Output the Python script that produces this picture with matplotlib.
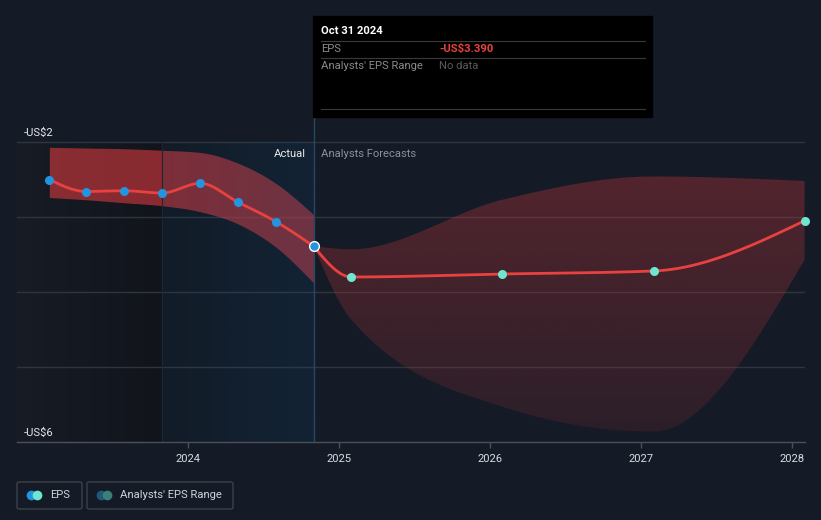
import datetime as dt
import numpy as np
import matplotlib
matplotlib.use('Agg')
import matplotlib.pyplot as plt
import matplotlib.transforms as mtrans
from matplotlib.patches import Rectangle, FancyBboxPatch
from matplotlib.lines import Line2D

plt.rcParams['font.family'] = ['Roboto', 'DejaVu Sans']

# === DATA === #
past_dates = ['2023-01-31', '2023-04-30', '2023-07-31', '2023-10-31',
              '2024-01-31', '2024-04-30', '2024-07-31', '2024-10-31']
past_eps = [-2.50, -2.66, -2.65, -2.68, -2.55, -2.80, -3.06, -3.39]
past_high = [-2.07, -2.08, -2.09, -2.11, -2.14, -2.28, -2.55, -2.97]
past_low = [-2.74, -2.77, -2.81, -2.85, -2.93, -3.09, -3.40, -3.88]

fc_dates = ['2025-01-31', '2026-01-31', '2027-01-31', '2028-01-31']
fc_eps = [-3.80, -3.76, -3.72, -3.05]
fc_high = [-3.43, -2.77, -2.46, -2.52]
fc_low = [-4.37, -5.53, -5.86, -3.57]

year_ticks = [2024, 2025, 2026, 2027, 2028]
y_labels = {-2: '-US$2', -6: '-US$6'}
grid_vals = [-2, -3, -4, -5]

# colours / sizes
BG = '#151b26'
RED = '#e8413f'
BLUE = '#2394df'
TEAL = '#6ee6d0'
FS = 8.1


def dyear(s):
    d = dt.date.fromisoformat(s)
    return d.year + (d - dt.date(d.year, 1, 1)).days / 365.25


def monotone(x, y, n=300):
    # monotone cubic (same idea as d3 curveMonotoneX)
    x = np.asarray(x, float); y = np.asarray(y, float)
    h = np.diff(x); s = np.diff(y) / h
    m = np.zeros_like(y)
    for i in range(1, len(y) - 1):
        p = (s[i-1] * h[i] + s[i] * h[i-1]) / (h[i-1] + h[i])
        m[i] = (np.sign(s[i-1]) + np.sign(s[i])) * min(abs(s[i-1]), abs(s[i]), 0.5 * abs(p))
    m[0] = (3 * s[0] - m[1]) / 2 if len(y) > 2 else s[0]
    m[-1] = (3 * s[-1] - m[-2]) / 2 if len(y) > 2 else s[-1]
    xs = np.linspace(x[0], x[-1], n)
    idx = np.clip(np.searchsorted(x, xs) - 1, 0, len(h) - 1)
    t = (xs - x[idx]) / h[idx]
    h00 = 2*t**3 - 3*t**2 + 1; h10 = t**3 - 2*t**2 + t
    h01 = -2*t**3 + 3*t**2; h11 = t**3 - t**2
    ys = h00*y[idx] + h10*h[idx]*m[idx] + h01*y[idx+1] + h11*h[idx]*m[idx+1]
    return xs, ys


px = np.array([dyear(d) for d in past_dates])
fx = np.array([dyear(d) for d in fc_dates])
fx_full = np.concatenate([[px[-1]], fx])
fe_full = np.concatenate([[past_eps[-1]], fc_eps])
fh_full = np.concatenate([[past_eps[-1]], fc_high])
fl_full = np.concatenate([[past_eps[-1]], fc_low])

W, H = 821, 520
fig = plt.figure(figsize=(W / 100, H / 100), dpi=100, facecolor=BG)
ax = fig.add_axes([17 / W, 1 - 442 / H, (805 - 17) / W, (442 - 117) / H])
ax.set_facecolor(BG)

x0, x1 = 2022.868, 2028.085
ax.set_xlim(x0, x1)
ax.set_ylim(-6, -2 + 25 / 75)

# background shading for the past
g = np.linspace(0, 1, 256)[None, :, None]
left = np.array([23, 28, 37]) / 255 * (1 - g) + np.array([17, 20, 27]) / 255 * g
ax.imshow(left, extent=[x0, px[3], -6, -2], aspect='auto', zorder=0)
ax.imshow(np.array([[[18, 22, 30]]]) / 255, extent=[px[3], px[-1], -6, -2],
          aspect='auto', zorder=0)

# blue highlight drawn over the band (last year of actuals)
over = np.zeros((1, 256, 4))
over[..., 0] = 20 / 255; over[..., 1] = 80 / 255; over[..., 2] = 130 / 255
over[..., 3] = 0.10 + 0.13 * np.linspace(0, 1, 256)
ax.imshow(over, extent=[px[3], px[-1], -6, -2], aspect='auto', zorder=4)
ax.axvline(px[3], ymax=(4 / (4 + 25 / 75)), color='#1c2836', lw=0.8, zorder=4)
ax.axvline(px[-1], color='#284760', lw=1, zorder=6)

for v in grid_vals:
    ax.axhline(v, color='#2f343d', lw=1, zorder=2)

# past range band
bx, bh = monotone(px, past_high)
_, bl = monotone(px, past_low)
ax.fill_between(bx, bl, bh, color='#d83a3f', alpha=0.6, lw=0, zorder=3)

# forecast range band with vertical gradient
fxs, fhs = monotone(fx_full, fh_full)
_, fls = monotone(fx_full, fl_full)
band = ax.fill_between(fxs, fls, fhs, facecolor='none', lw=0, zorder=3)
gy = np.linspace(0, 1, 256)[:, None]
grad = np.zeros((256, 2, 4))
grad[..., 0] = 216 / 255; grad[..., 1] = 58 / 255; grad[..., 2] = 63 / 255
grad[..., 3] = 0.32 * (1 - gy) + 0.11 * gy
im = ax.imshow(grad, extent=[px[-1], x1, -6, -2.4], aspect='auto', zorder=3)
im.set_clip_path(band.get_paths()[0], transform=ax.transData)

# EPS lines
lx, ly = monotone(px, past_eps)
ax.plot(lx, ly, color=RED, lw=2, zorder=5, solid_capstyle='round')
fxl, fyl = monotone(fx_full, fe_full)
ax.plot(fxl, fyl, color=RED, lw=2, zorder=5, solid_capstyle='round')
ax.plot(px[:-1], past_eps[:-1], 'o', color=BLUE, ms=6.5, mew=0, zorder=7)
ax.plot(px[-1], past_eps[-1], 'o', color=BLUE, ms=7, mec='white', mew=1, zorder=8)
ax.plot(fx, fc_eps, 'o', color=TEAL, ms=6.5, mew=0, zorder=7, clip_on=False)

# axes styling
for sp in ['top', 'right', 'left']:
    ax.spines[sp].set_visible(False)
ax.spines['bottom'].set_color('#4b505a')
ax.spines['bottom'].set_linewidth(1)
ax.set_yticks([])
ax.set_xticks(year_ticks)
ax.set_xticklabels([str(y) for y in year_ticks])
ax.tick_params(axis='x', colors='#4b505a', labelcolor='#d9dbdf', length=4,
               width=1, pad=5, labelsize=FS)

blend = mtrans.blended_transform_factory(ax.transAxes, ax.transData)
for v, s in y_labels.items():
    ax.text(7 / 788, v + 0.06, s, transform=blend, color='#e4e6ea',
            fontsize=FS, va='bottom', ha='left', zorder=9)

ax.text(px[-1] - 0.05, -2.16, 'Actual', color='#e8e8e8', fontsize=FS,
        ha='right', va='center', zorder=9)
ax.text(px[-1] + 0.05, -2.16, 'Analysts Forecasts', color='#8b9099', fontsize=FS,
        ha='left', va='center', zorder=9)


# === TOOLTIP === #
def fp(x, y):
    return x / W, 1 - y / H


tx, ty = fp(313, 117)
fig.add_artist(Rectangle((tx, ty), (652 - 313) / W, (117 - 16) / H,
                         transform=fig.transFigure, color='black', zorder=20))
for yy in [41, 58, 109]:
    a, b = fp(321, yy)
    c, _ = fp(645, yy)
    fig.add_artist(Line2D([a, c], [b, b], transform=fig.transFigure,
                          color='#3a3a3a', lw=0.8, zorder=21))
fig.text(*fp(321, 31), 'Oct 31 2024', color='white', fontsize=FS,
         fontweight='bold', va='center', zorder=22)
fig.text(*fp(321, 49), 'EPS', color='#8a8a8a', fontsize=FS, va='center', zorder=22)
fig.text(*fp(439, 49), '-US$3.390', color=RED, fontsize=FS, fontweight='bold',
         va='center', zorder=22)
fig.text(*fp(321, 66), "Analysts' EPS Range", color='#8a8a8a', fontsize=FS,
         va='center', zorder=22)
fig.text(*fp(439, 66), 'No data', color='#5a5a5a', fontsize=FS, va='center', zorder=22)

# === LEGEND === #
for (l, r) in [(17, 82), (87, 233)]:
    a, b = fp(l, 509)
    fig.add_artist(FancyBboxPatch((a, b), (r - l) / W, 27 / H,
                                  boxstyle='round,pad=0,rounding_size=0.003',
                                  transform=fig.transFigure, fc='none',
                                  ec='#3b4049', lw=1, zorder=20))
for xx, col in [(31, BLUE), (37, TEAL), (101, '#22587c'), (107, '#3b7f79')]:
    a, b = fp(xx, 495)
    fig.add_artist(Line2D([a], [b], transform=fig.transFigure, marker='o',
                          ms=7, color=col, mew=0, zorder=21))
fig.text(*fp(50, 495), 'EPS', color='#d0d3d8', fontsize=FS, va='center', zorder=22)
fig.text(*fp(120, 495), "Analysts' EPS Range", color='#d0d3d8', fontsize=FS,
         va='center', zorder=22)

fig.savefig('out.png', dpi=100, facecolor=BG)
